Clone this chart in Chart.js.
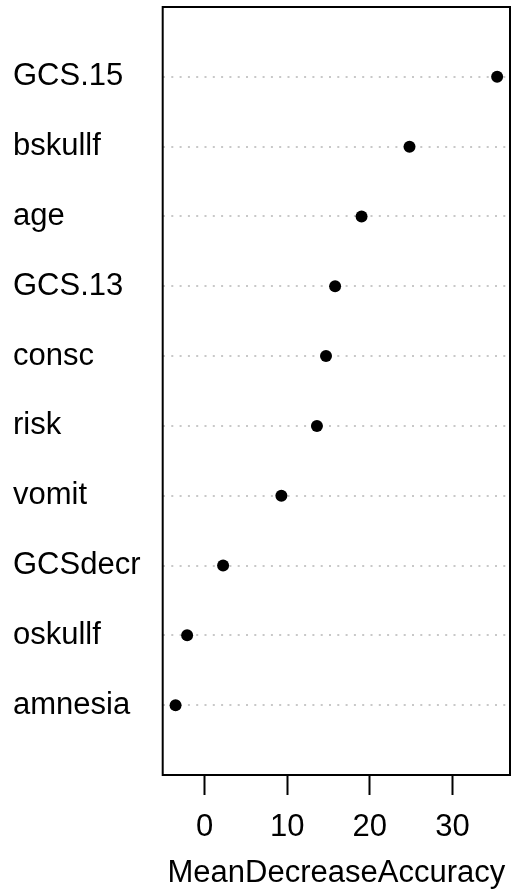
<!DOCTYPE html>
<html>
<head>
<meta charset="utf-8">
<script src="https://cdn.jsdelivr.net/npm/chart.js@4/dist/chart.umd.min.js"></script>
<style>
  html, body { margin: 0; padding: 0; background: #fff; }
  #wrap { width: 516px; height: 895px; }
</style>
</head>
<body>
<div id="wrap"><canvas id="chart" width="516" height="895"></canvas></div>
<script>
// variables, top to bottom as in the plot
const variables = ['GCS.15', 'bskullf', 'age', 'GCS.13', 'consc', 'risk', 'vomit', 'GCSdecr', 'oskullf', 'amnesia'];
const meanDecreaseAccuracy = [35.4, 24.8, 19.0, 15.8, 14.7, 13.6, 9.3, 2.25, -2.1, -3.5];
const xTicks = [0, 10, 20, 30];
const xTitle = 'MeanDecreaseAccuracy';

const n = variables.length;
// row positions, as in dotchart: last variable at 1, first at n
const rows = variables.map((v, i) => n - i);

// R-style 4% axis extension
const lo = Math.min(...meanDecreaseAccuracy);
const hi = Math.max(...meanDecreaseAccuracy);
const pad = (hi - lo) * 0.04;

const font = { family: '"Liberation Sans", Arial, sans-serif', size: 31 };

// frame around the plot region
const boxPlugin = {
    id: 'box',
    afterDraw(chart) {
        const { ctx, chartArea: a } = chart;
        ctx.save();
        ctx.strokeStyle = '#000';
        ctx.lineWidth = 2;
        ctx.strokeRect(a.left, a.top, a.right - a.left, a.bottom - a.top);
        ctx.restore();
    }
};

new Chart(document.getElementById('chart').getContext('2d'), {
    type: 'scatter',
    data: {
        datasets: [{
            data: meanDecreaseAccuracy.map((v, i) => ({ x: v, y: rows[i] })),
            backgroundColor: '#000',
            borderWidth: 0,
            pointRadius: 6,
            pointHoverRadius: 6
        }]
    },
    options: {
        responsive: false,
        animation: false,
        layout: { padding: { left: 13, right: 5, top: 7, bottom: 0 } },
        plugins: { legend: { display: false }, tooltip: { enabled: false } },
        scales: {
            x: {
                type: 'linear',
                min: lo - pad,
                max: hi + pad,
                afterBuildTicks: s => { s.ticks = xTicks.map(v => ({ value: v })); },
                afterFit: s => { s.height = 120; s.paddingLeft = 0; s.paddingRight = 0; },
                grid: { drawOnChartArea: false, drawTicks: true, tickLength: 20, tickColor: '#000', tickWidth: 2 },
                border: { display: false },
                ticks: { color: '#000', font: font, padding: 14, maxRotation: 0 },
                title: { display: true, text: xTitle, color: '#000', font: font, padding: { top: 0, bottom: 3 } }
            },
            y: {
                type: 'linear',
                min: 0,
                max: n + 1,
                afterBuildTicks: s => { s.ticks = rows.map(v => ({ value: v })); },
                afterFit: s => { s.width = 149.7; s.paddingTop = 0; s.paddingBottom = 0; },
                grid: { color: '#c8c8c8', lineWidth: 2, drawTicks: false, borderDash: [2, 6.3] },
                border: { display: false, dash: [2, 6.3] },
                ticks: {
                    color: '#000',
                    font: font,
                    crossAlign: 'far',
                    callback: v => variables[n - v]
                }
            }
        }
    },
    plugins: [boxPlugin]
});
</script>
</body>
</html>
